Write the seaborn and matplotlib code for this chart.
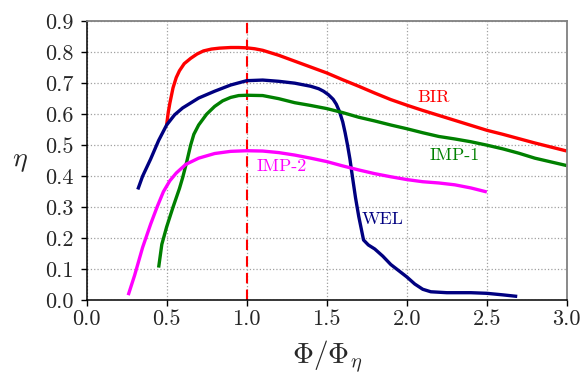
import matplotlib
matplotlib.use("Agg")
import matplotlib.pyplot as plt
import seaborn as sns
import pandas as pd

# ---- data ----
bir_x = [0.50, 0.51, 0.52, 0.54, 0.56, 0.58, 0.61, 0.65, 0.69, 0.73, 0.78, 0.83, 0.90, 0.95, 1.00, 1.05, 1.10,
         1.20, 1.30, 1.40, 1.50, 1.60, 1.70, 1.80, 1.90, 2.00, 2.10, 2.20, 2.30, 2.40, 2.50, 2.60, 2.70,
         2.80, 2.90, 3.00]
bir_y = [0.565, 0.605, 0.635, 0.685, 0.718, 0.740, 0.763, 0.780, 0.794, 0.804, 0.810, 0.813, 0.815, 0.815, 0.814,
         0.811, 0.806, 0.790, 0.771, 0.752, 0.733, 0.711, 0.690, 0.668, 0.647, 0.629, 0.612, 0.596, 0.580,
         0.564, 0.548, 0.535, 0.521, 0.507, 0.494, 0.481]

wel_x = [0.32, 0.35, 0.40, 0.45, 0.50, 0.55, 0.60, 0.70, 0.80, 0.90, 1.00, 1.10, 1.20, 1.30, 1.40,
         1.45, 1.48, 1.51, 1.54, 1.56, 1.58, 1.60, 1.615, 1.63, 1.645, 1.66, 1.68, 1.70, 1.73, 1.76,
         1.80, 1.85, 1.90, 1.95, 2.00, 2.05, 2.10, 2.15, 2.25, 2.40, 2.50, 2.60, 2.69]
wel_y = [0.357, 0.400, 0.455, 0.515, 0.565, 0.598, 0.620, 0.652, 0.674, 0.694, 0.708, 0.710, 0.706, 0.700, 0.690,
         0.682, 0.674, 0.663, 0.648, 0.632, 0.608, 0.575, 0.540, 0.500, 0.455, 0.400, 0.330, 0.270, 0.194, 0.178,
         0.165, 0.142, 0.115, 0.095, 0.075, 0.052, 0.035, 0.027, 0.024, 0.024, 0.022, 0.017, 0.012]

imp1_x = [0.45, 0.47, 0.50, 0.54, 0.58, 0.60, 0.625, 0.65, 0.67, 0.70, 0.75, 0.80, 0.85, 0.90, 0.95, 1.00,
          1.10, 1.20, 1.30, 1.40, 1.50, 1.60, 1.70, 1.80, 1.90, 2.00, 2.10, 2.20, 2.30, 2.40, 2.50,
          2.60, 2.70, 2.80, 2.90, 3.00]
imp1_y = [0.105, 0.180, 0.236, 0.300, 0.360, 0.395, 0.445, 0.500, 0.535, 0.565, 0.600, 0.625, 0.643, 0.654, 0.660, 0.661,
          0.660, 0.650, 0.637, 0.628, 0.618, 0.605, 0.590, 0.578, 0.565, 0.553, 0.540, 0.528, 0.520, 0.511, 0.500,
          0.488, 0.474, 0.458, 0.446, 0.434]

imp2_x = [0.26, 0.30, 0.35, 0.40, 0.44, 0.48, 0.52, 0.56, 0.62, 0.70, 0.80, 0.90, 1.00, 1.10, 1.20, 1.30,
          1.40, 1.50, 1.60, 1.70, 1.80, 1.90, 2.00, 2.10, 2.20, 2.30, 2.40, 2.50]
imp2_y = [0.016, 0.080, 0.170, 0.245, 0.300, 0.350, 0.385, 0.410, 0.438, 0.458, 0.473, 0.480, 0.482, 0.481, 0.476, 0.468,
          0.458, 0.447, 0.433, 0.420, 0.408, 0.398, 0.389, 0.382, 0.378, 0.372, 0.362, 0.349]

series_names = ["BIR", "WEL", "IMP-1", "IMP-2"]
series_colors = ["#ff0000", "#000080", "#008000", "#ff00ff"]
label_pos = [(2.167, 0.655), (1.85, 0.26), (2.302, 0.468), (1.219, 0.433)]

x_ticks = [0.0, 0.5, 1.0, 1.5, 2.0, 2.5, 3.0]
y_ticks = [0.0, 0.1, 0.2, 0.3, 0.4, 0.5, 0.6, 0.7, 0.8, 0.9]
ref_x = 1.0

# ---- style ----
sns.set_style("ticks")
plt.rcParams["font.family"] = ["cmr10"]
plt.rcParams["mathtext.fontset"] = "cm"
plt.rcParams["axes.formatter.use_mathtext"] = True
plt.rcParams["axes.unicode_minus"] = False

fig = plt.figure(figsize=(5.85, 3.78), dpi=100)
ax = fig.add_axes([0.148, 0.206, 0.821, 0.738])

all_x = [bir_x, wel_x, imp1_x, imp2_x]
all_y = [bir_y, wel_y, imp1_y, imp2_y]
for name, xs, ys, c in zip(series_names, all_x, all_y, series_colors):
    df = pd.DataFrame({"x": xs, "y": ys})
    line_ax = sns.lineplot(data=df, x="x", y="y", ax=ax, color=c, linewidth=2.4, sort=False,
                           estimator=None, legend=False)
for ln in ax.get_lines():
    ln.set_solid_joinstyle("round")
    ln.set_solid_capstyle("butt")

ax.axvline(ref_x, color="#ff0000", linestyle=(0, (5, 3)), linewidth=1.5, zorder=1)

for name, (lx, ly), c in zip(series_names, label_pos, series_colors):
    ax.text(lx, ly, name, color=c, fontsize=13, ha="center", va="center")

ax.set_xlim(0, 3.0)
ax.set_ylim(0, 0.9)
ax.set_xticks(x_ticks)
ax.set_yticks(y_ticks)
ax.set_xticklabels([f"{v:.1f}" for v in x_ticks])
ax.set_yticklabels([f"{v:.1f}" for v in y_ticks])
ax.tick_params(axis="both", labelsize=16, length=4, width=1, direction="out", color="black")
ax.tick_params(axis="y", pad=5)
ax.tick_params(axis="x", pad=3)

ax.grid(True, linestyle=":", color="#a0a0a0", linewidth=0.9)
ax.set_axisbelow(True)

for s in ["left", "bottom"]:
    ax.spines[s].set_color("black")
    ax.spines[s].set_linewidth(1.1)
for s in ["top", "right"]:
    ax.spines[s].set_visible(True)
    ax.spines[s].set_color("#808080")
    ax.spines[s].set_linewidth(1.3)

ax.set_xlabel(r"$\Phi/\Phi_\eta$", fontsize=21, va="center")
ax.set_ylabel(r"$\eta$", fontsize=20, rotation=0, ha="center", va="center")
ax.xaxis.set_label_coords(0.5, -0.204)
ax.yaxis.set_label_coords(-0.139, 0.5)

fig.savefig("out.png", dpi=100)
